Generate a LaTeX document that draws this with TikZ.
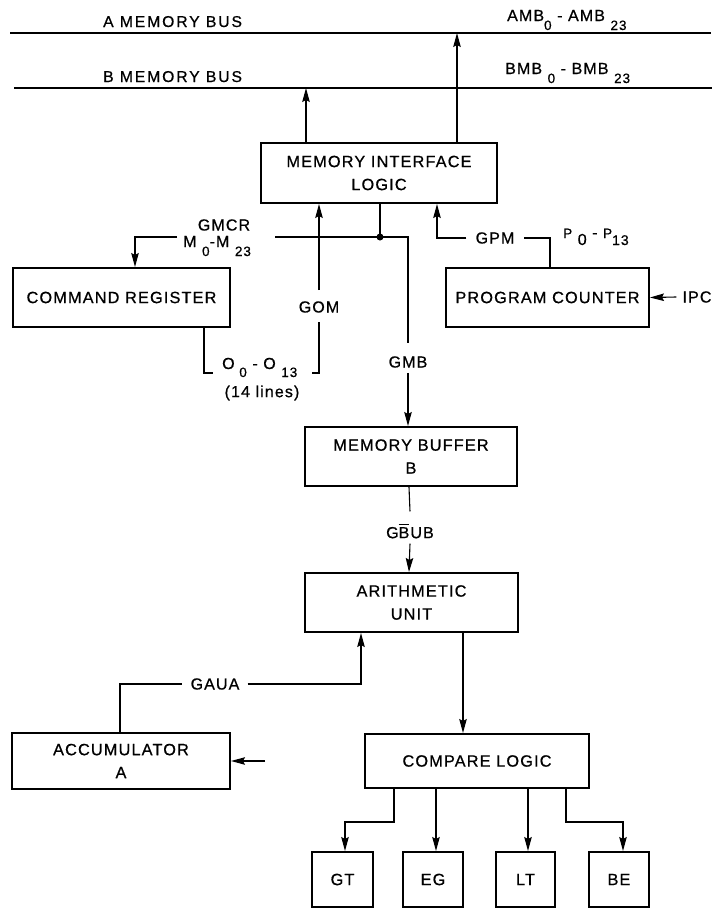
\documentclass[tikz,border=0pt]{standalone}
\usepackage{fontspec}
\setmainfont{Liberation Sans}[LetterSpace=7,FakeBold=0.7]
\newfontfamily\busfont{Liberation Sans}[LetterSpace=12,FakeBold=0.7]
\usetikzlibrary{arrows.meta}
% lowered index digits used in the signal ranges
\newcommand\lowsub[1]{\raisebox{-9pt}{\fontsize{13.5}{14}\selectfont #1}}
\begin{document}
\begin{tikzpicture}[x=1pt,y=-1pt,
  blk/.style={draw, line width=2pt, inner sep=0pt, align=center,
              font=\fontsize{16.3}{23}\selectfont},
  wire/.style={line width=1.1pt},
  arr/.style={wire, -{Stealth[length=14pt,width=7.5pt,inset=2pt]}},
  lbl/.style={inner sep=0pt, font=\fontsize{16}{19}\selectfont},
  buslbl/.style={inner sep=0pt, font=\busfont\fontsize{15.7}{19}\selectfont},
  busline/.style={line width=1.3pt}]
\useasboundingbox (0,0) rectangle (716,908);

% ---- memory buses
\coordinate (ba-l) at (10,33);  \coordinate (ba-r) at (711,33);
\coordinate (bb-l) at (14,88);  \coordinate (bb-r) at (712,88);
\draw[busline] (ba-l) -- (ba-r);
\draw[busline] (bb-l) -- (bb-r);
\node[buslbl, anchor=base west] (la) at (103,27) {A MEMORY BUS};
\node[buslbl, anchor=base west] (lb) at (103,82) {B MEMORY BUS};
\node[lbl, anchor=base west] (amb) at (507,21) {AMB\lowsub{0} - AMB \lowsub{23}};
\node[lbl, anchor=base west] (bmb) at (505,74) {BMB \lowsub{0} - BMB \lowsub{23}};

% ---- blocks
\node[blk, minimum width=236pt, minimum height=60pt] (mil) at (379,173) {MEMORY INTERFACE\\LOGIC};
\node[blk, minimum width=217pt, minimum height=59pt] (cr)  at (121.5,297.5) {COMMAND REGISTER};
\node[blk, minimum width=203pt, minimum height=59pt] (pc)  at (547.5,297.5) {PROGRAM COUNTER};
\node[blk, minimum width=212pt, minimum height=59pt] (mb)  at (411,456.5) {MEMORY BUFFER\\B};
\node[blk, minimum width=213pt, minimum height=59pt] (au)  at (411.5,602.5) {ARITHMETIC\\UNIT};
\node[blk, minimum width=218pt, minimum height=56pt] (acc) at (121,761) {ACCUMULATOR\\A};
\node[blk, minimum width=224pt, minimum height=54pt] (cl)  at (477,761) {COMPARE LOGIC};
\node[blk, minimum width=61pt, minimum height=55pt] (gt) at (342.5,879.5) {GT};
\node[blk, minimum width=60pt, minimum height=55pt] (eg) at (433,879.5) {EG};
\node[blk, minimum width=59pt, minimum height=55pt] (lt) at (525.5,879.5) {LT};
\node[blk, minimum width=60pt, minimum height=55pt] (be) at (619,879.5) {BE};

% ---- signal labels
\node[lbl] (gmcr) at (224,225) {GMCR};
\node[lbl, anchor=base west] (mrange) at (183,247) {M \lowsub{0}-M \lowsub{23}};
\node[lbl] (gom) at (319,307) {GOM};
\node[lbl, anchor=base west] (orange) at (222,369)
  {O\raisebox{-8pt}{\fontsize{13.5}{14}\selectfont\ 0} - O \raisebox{-8pt}{\fontsize{13.5}{14}\selectfont 13}};
\node[lbl] (olines) at (262,393) {(14 lines)};
\node[lbl] (gmb) at (408,362) {GMB};
\node[lbl] (gpm) at (495,238) {GPM};
\node[lbl, anchor=base west] (prange) at (563,238)
  {{\fontsize{13.5}{14}\selectfont P}\raisebox{-7pt}{\ 0} - {\fontsize{13.5}{14}\selectfont P}\raisebox{-7pt}{\fontsize{14}{14}\selectfont 13}};
\node[lbl] (ipc) at (697,297) {IPC};
\node[lbl] (gbub) at (410,531) {G\rlap{\rule[13.5pt]{10.5pt}{1pt}}BUB};
\node[lbl] (gaua) at (215,684) {GAUA};

% ---- column and corner points of the wiring
\coordinate (xBout) at (306,0);
\coordinate (xAout) at (457,0);
\coordinate (xGOM)  at (319,0);
\coordinate (xGMB)  at (408,0);
\coordinate (xGPM)  at (437,0);
\coordinate (xPCt)  at (550,0);
\coordinate (xCRt)  at (135,0);
\coordinate (xCRb)  at (204,0);
\coordinate (xGB)   at (409,0);
\coordinate (xAUin) at (361,0);
\coordinate (xAUout) at (463,0);
\coordinate (xACC)  at (120,0);
\coordinate (xGTs)  at (394,0);
\coordinate (xGT)   at (345,0);
\coordinate (xEG)   at (436,0);
\coordinate (xLT)   at (528,0);
\coordinate (xBEs)  at (566,0);
\coordinate (xBE)   at (623,0);
\coordinate (jn)    at (380,237);
\coordinate (mgapL) at (177,237);
\coordinate (mgapR) at (275,237);
\coordinate (oL)    at (213,373);
\coordinate (oR)    at (312,373);
\coordinate (accin) at (265,761);

% ---- memory interface to the buses
\draw[arr] (mil.north -| xBout) -- (bb-l -| xBout);
\draw[arr] (mil.north -| xAout) -- (ba-l -| xAout);

% ---- memory data lines
\draw[wire] (mil.south -| jn) -- (jn);
\fill (jn) circle (3.5pt);
\draw[wire] (mgapR) -- (jn) -| ([yshift=13pt]gmb.north);
\draw[arr] ([yshift=-5pt]gmb.south) -- (mb.north -| xGMB);
\draw[arr] (mgapL) -| (cr.north -| xCRt);

% ---- operand field back to the interface
\draw[wire] (cr.south -| xCRb) |- (oL);
\draw[wire] (oR) -| ([yshift=-9pt]gom.south);
\draw[arr] ([yshift=11pt]gom.north) -- (mil.south -| xGOM);

% ---- program counter
\draw[wire] (pc.north -| xPCt) |- ([xshift=9pt]gpm.east);
\draw[arr] ([xshift=-9pt]gpm.west) -| (mil.south -| xGPM);
\draw[arr] ([xshift=-6pt]ipc.west) -- (pc.east);

% ---- buffer, arithmetic unit, accumulator
\draw[wire] (mb.south -| xGB) -- ([yshift=12pt]gbub.north);
\draw[arr] ([yshift=-5pt]gbub.south) -- (au.north -| xGB);
\draw[wire] (acc.north -| xACC) |- ([xshift=-8pt]gaua.west);
\draw[arr] ([xshift=8pt]gaua.east) -| (au.south -| xAUin);
\draw[arr] (accin) -- (acc.east);
\draw[arr] (au.south -| xAUout) -- (cl.north -| xAUout);

% ---- compare logic outputs
\draw[arr] (cl.south -| xGTs) -- ++(0,33) -| (gt.north -| xGT);
\draw[arr] (cl.south -| xEG) -- (eg.north -| xEG);
\draw[arr] (cl.south -| xLT) -- (lt.north -| xLT);
\draw[arr] (cl.south -| xBEs) -- ++(0,33) -| (be.north -| xBE);
\end{tikzpicture}
\end{document}
